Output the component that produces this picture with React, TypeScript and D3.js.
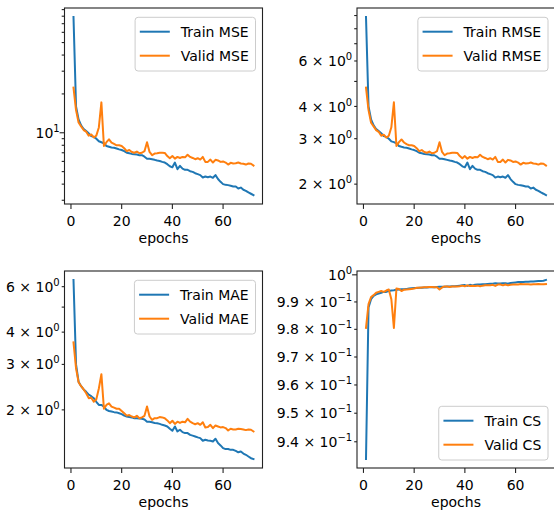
import React, { useEffect, useRef } from 'react';
import * as d3 from 'd3';

const epochs = d3.range(1, 73);

const trainMSE = [
  79, 16.0, 12.7, 11.4, 10.7, 10.3, 9.9, 9.43, 9.3, 9.0,
  8.6, 8.45, 8.3, 7.9, 7.8, 7.7, 7.65, 7.55, 7.44, 7.35,
  7.2, 7.0, 6.94, 6.86, 6.82, 6.78, 6.7, 6.7, 6.53, 6.3,
  6.3, 6.24, 6.17, 6.09, 6.05, 5.95, 5.88, 5.71, 5.5, 5.4,
  5.88, 5.22, 5.54, 5.28, 5.16, 5.16, 5.04, 4.98, 4.86, 4.78,
  4.7, 4.5, 4.58, 4.52, 4.58, 4.48, 4.7, 4.38, 4.17, 4.0,
  3.95, 3.93, 3.89, 3.84, 3.84, 3.7, 3.76, 3.62, 3.55, 3.45, 3.37, 3.29,
];
const validMSE = [
  22.4, 15.0, 12.0, 11.2, 10.5, 10.2, 9.5, 9.7, 9.2, 9.5,
  11.0, 17.2, 7.9, 8.45, 8.9, 8.4, 8.2, 8.0, 8.0, 7.9,
  7.6, 7.2, 7.35, 7.1, 7.0, 7.15, 6.94, 7.0, 7.2, 8.45,
  7.1, 6.7, 6.9, 6.94, 7.0, 7.0, 6.98, 6.6, 6.35, 6.6,
  6.3, 6.5, 6.38, 6.5, 6.45, 6.75, 6.5, 6.38, 6.24, 6.35,
  6.2, 6.5, 5.95, 5.95, 6.2, 5.88, 6.17, 6.1, 5.95, 6.0,
  5.88, 5.67, 5.85, 5.78, 5.8, 5.88, 5.78, 5.75, 5.67, 5.78, 5.75, 5.57,
];
const trainRMSE = [
  8.89, 4.0, 3.56, 3.38, 3.27, 3.21, 3.15, 3.07, 3.05, 3.0,
  2.93, 2.91, 2.88, 2.81, 2.79, 2.775, 2.766, 2.748, 2.728, 2.711,
  2.683, 2.646, 2.634, 2.619, 2.612, 2.604, 2.588, 2.588, 2.555, 2.51,
  2.51, 2.498, 2.484, 2.468, 2.46, 2.439, 2.425, 2.39, 2.345, 2.324,
  2.425, 2.285, 2.354, 2.298, 2.272, 2.272, 2.245, 2.232, 2.205, 2.186,
  2.168, 2.121, 2.14, 2.126, 2.14, 2.117, 2.168, 2.093, 2.042, 2.0,
  1.987, 1.982, 1.972, 1.96, 1.96, 1.924, 1.939, 1.903, 1.884, 1.857, 1.836, 1.814,
];
const validRMSE = [
  4.73, 3.87, 3.46, 3.35, 3.24, 3.19, 3.08, 3.11, 3.03, 3.08,
  3.32, 4.15, 2.81, 2.91, 2.98, 2.90, 2.86, 2.83, 2.83, 2.81,
  2.757, 2.683, 2.711, 2.665, 2.646, 2.674, 2.634, 2.646, 2.683, 2.907,
  2.665, 2.588, 2.627, 2.634, 2.646, 2.646, 2.642, 2.569, 2.52, 2.569,
  2.51, 2.55, 2.526, 2.55, 2.54, 2.598, 2.55, 2.526, 2.498, 2.52,
  2.49, 2.55, 2.439, 2.439, 2.49, 2.425, 2.484, 2.47, 2.439, 2.449,
  2.425, 2.381, 2.419, 2.404, 2.408, 2.425, 2.404, 2.398, 2.381, 2.404, 2.398, 2.36,
];
const trainMAE = [
  6.37, 3.0, 2.57, 2.47, 2.40, 2.35, 2.29, 2.26, 2.22, 2.15,
  2.09, 2.09, 2.06, 2.0, 1.98, 1.97, 1.96, 1.955, 1.94, 1.925,
  1.90, 1.885, 1.875, 1.87, 1.857, 1.857, 1.85, 1.847, 1.835, 1.80,
  1.80, 1.79, 1.78, 1.776, 1.765, 1.75, 1.74, 1.725, 1.69, 1.66,
  1.725, 1.65, 1.675, 1.64, 1.626, 1.626, 1.60, 1.59, 1.578, 1.565,
  1.555, 1.518, 1.532, 1.523, 1.518, 1.509, 1.545, 1.487, 1.457, 1.422,
  1.41, 1.41, 1.40, 1.40, 1.387, 1.37, 1.38, 1.355, 1.34, 1.32, 1.30, 1.29,
];
const validMAE = [
  3.65, 2.90, 2.56, 2.47, 2.40, 2.32, 2.22, 2.23, 2.15, 2.2,
  2.42, 2.75, 2.02, 2.09, 2.12, 2.06, 2.04, 2.02, 2.02, 1.98,
  1.94, 1.90, 1.91, 1.885, 1.87, 1.896, 1.857, 1.87, 1.896, 2.06,
  1.885, 1.83, 1.857, 1.857, 1.875, 1.87, 1.857, 1.82, 1.776, 1.815,
  1.765, 1.80, 1.78, 1.80, 1.79, 1.847, 1.80, 1.776, 1.76, 1.776,
  1.75, 1.79, 1.71, 1.715, 1.75, 1.70, 1.74, 1.725, 1.71, 1.715,
  1.70, 1.665, 1.69, 1.68, 1.68, 1.69, 1.685, 1.68, 1.67, 1.68, 1.675, 1.65,
];
const trainCS = [
  0.934, 0.988, 0.991, 0.9922, 0.9928, 0.9931, 0.9934, 0.9937, 0.9937, 0.994,
  0.9942, 0.9943, 0.9945, 0.9946, 0.9947, 0.9947, 0.9948, 0.9949, 0.995, 0.9951,
  0.9951, 0.9952, 0.9952, 0.9953, 0.9953, 0.9954, 0.9954, 0.9954, 0.9955, 0.9956,
  0.9956, 0.9956, 0.9957, 0.9957, 0.9958, 0.9958, 0.9959, 0.996, 0.9961, 0.9962,
  0.9959, 0.9963, 0.9961, 0.9963, 0.9964, 0.9964, 0.9965, 0.9965, 0.9966, 0.9967,
  0.9967, 0.9969, 0.9968, 0.9968, 0.9969, 0.9969, 0.9967, 0.997, 0.9971, 0.9972,
  0.9973, 0.9973, 0.9973, 0.9974, 0.9974, 0.9975, 0.9975, 0.9976, 0.9977, 0.9977, 0.9978, 0.9981,
];
const validCS = [
  0.9805, 0.9892, 0.9918, 0.9925, 0.9934, 0.9937, 0.994, 0.9937, 0.9942, 0.9946,
  0.991, 0.9805, 0.9949, 0.9948, 0.994, 0.9945, 0.9946, 0.9947, 0.9948, 0.9949,
  0.9952, 0.9952, 0.9953, 0.9954, 0.9954, 0.9955, 0.9955, 0.9954, 0.9954, 0.9946,
  0.9953, 0.9957, 0.9957, 0.9955, 0.9957, 0.9957, 0.9957, 0.9958, 0.996, 0.9958,
  0.9961, 0.9959, 0.996, 0.9959, 0.996, 0.9958, 0.996, 0.9961, 0.9961, 0.9961,
  0.9963, 0.9959, 0.9964, 0.9964, 0.9961, 0.9964, 0.9961, 0.9963, 0.9964, 0.9964,
  0.9964, 0.9966, 0.9965, 0.9965, 0.9965, 0.9964, 0.9965, 0.9965, 0.9966, 0.9965, 0.9965, 0.9966,
];

const xTicks = [0, 20, 40, 60];
const mseMajor = [10];
const mseMinor = [3, 4, 5, 6, 7, 8, 9, 20, 30, 40, 50, 60, 70, 80, 90];
const mseLabeled = [10];
const rmseMinor = [2, 3, 4, 5, 6, 7, 8, 9];
const rmseLabeled = [2, 3, 4, 6];
const maeMinor = [2, 3, 4, 5, 6];
const maeLabeled = [2, 3, 4, 6];
const csMajor = [1];
const csMinor = [0.94, 0.95, 0.96, 0.97, 0.98, 0.99];
const csLabeled = [1, 0.94, 0.95, 0.96, 0.97, 0.98, 0.99];

const C_TRAIN = '#1f77b4';
const C_VALID = '#ff7f0e';
const FONT = 'DejaVu Sans';

const panels = [
  { left: 64.5, top: 8, w: 198, h: 196, train: trainMSE, valid: validMSE, names: ['Train MSE', 'Valid MSE'], legend: 'upper', major: mseMajor, minor: mseMinor, labeled: mseLabeled },
  { left: 357, top: 8, w: 198, h: 196, train: trainRMSE, valid: validRMSE, names: ['Train RMSE', 'Valid RMSE'], legend: 'upper', major: [], minor: rmseMinor, labeled: rmseLabeled },
  { left: 64.5, top: 271, w: 198, h: 197, train: trainMAE, valid: validMAE, names: ['Train MAE', 'Valid MAE'], legend: 'upper', major: [], minor: maeMinor, labeled: maeLabeled },
  { left: 357, top: 271, w: 198, h: 197, train: trainCS, valid: validCS, names: ['Train CS', 'Valid CS'], legend: 'lower', major: csMajor, minor: csMinor, labeled: csLabeled },
];

function tickParts(v: number) {
  const e = Math.floor(Math.log10(v) + 1e-9);
  const m = +(v / Math.pow(10, e)).toFixed(3);
  const mant = Math.abs(m - 1) < 1e-6 ? null : String(+m.toFixed(1));
  const exp = e < 0 ? '\u2212' + -e : String(e);
  return { mant, exp };
}

export default function App() {
  const ref = useRef<SVGSVGElement>(null);

  useEffect(() => {
    const svg = d3.select(ref.current);
    svg.selectAll('*').remove();

    panels.forEach((p) => {
      const g = svg.append('g');
      const n = epochs.length;
      const xPad = 0.05 * (epochs[n - 1] - epochs[0]);
      const x = d3.scaleLinear().domain([epochs[0] - xPad, epochs[n - 1] + xPad]).range([p.left, p.left + p.w]);
      const all = p.train.concat(p.valid);
      const lmin = Math.log10(d3.min(all) as number);
      const lmax = Math.log10(d3.max(all) as number);
      const lp = 0.05 * (lmax - lmin);
      const y = d3.scaleLog().domain([Math.pow(10, lmin - lp), Math.pow(10, lmax + lp)]).range([p.top + p.h, p.top]);

      const line = d3.line<number>().x((_, i) => x(epochs[i])).y((d) => y(d));
      g.append('path').attr('d', line(p.train)).attr('fill', 'none').attr('stroke', C_TRAIN).attr('stroke-width', 2).attr('stroke-linejoin', 'round').attr('stroke-linecap', 'square');
      g.append('path').attr('d', line(p.valid)).attr('fill', 'none').attr('stroke', C_VALID).attr('stroke-width', 2).attr('stroke-linejoin', 'round').attr('stroke-linecap', 'square');

      // spines
      g.append('rect').attr('x', p.left).attr('y', p.top).attr('width', p.w).attr('height', p.h)
        .attr('fill', 'none').attr('stroke', '#222').attr('stroke-width', 1.1);

      const bottom = p.top + p.h;
      // x ticks
      xTicks.forEach((t) => {
        const xx = x(t);
        g.append('line').attr('x1', xx).attr('x2', xx).attr('y1', bottom).attr('y2', bottom + 4.9).attr('stroke', '#222').attr('stroke-width', 1.1);
        g.append('text').attr('x', xx).attr('y', bottom + 21.8).attr('text-anchor', 'middle')
          .attr('font-family', FONT).attr('font-size', 14).attr('fill', '#000').text(String(t));
      });
      g.append('text').attr('x', p.left + p.w / 2).attr('y', bottom + 39.3).attr('text-anchor', 'middle')
        .attr('font-family', FONT).attr('font-size', 14).attr('fill', '#000').text('epochs');

      // y ticks
      const drawTick = (v: number, len: number) => {
        const yy = y(v);
        g.append('line').attr('x1', p.left - len).attr('x2', p.left).attr('y1', yy).attr('y2', yy).attr('stroke', '#222').attr('stroke-width', 1.1);
      };
      p.major.forEach((v) => drawTick(v, 4.9));
      p.minor.forEach((v) => drawTick(v, 2.8));
      p.labeled.forEach((v) => {
        const yy = y(v);
        const { mant, exp } = tickParts(v);
        const t = g.append('text').attr('x', p.left - 4.8).attr('y', yy + 5.1).attr('text-anchor', 'end')
          .attr('font-family', FONT).attr('font-size', 14).attr('fill', '#000');
        t.append('tspan').text((mant ? mant + ' \u00d7 ' : '') + '10');
        t.append('tspan').attr('dy', -6).attr('font-size', 10).text(exp);
      });

      // legend
      const lg = g.append('g');
      const texts = p.names.map((nm, i) => lg.append('text').attr('font-family', FONT).attr('font-size', 14).attr('fill', '#000').text(nm));
      const tw = d3.max(texts.map((t) => (t.node() as SVGTextElement).getComputedTextLength())) as number;
      const bw = tw + 52.4;
      const bh = 53.7;
      const bx = p.left + p.w - 7 - bw;
      const by = p.legend === 'upper' ? p.top + 9.3 : bottom - 8 - bh;
      lg.insert('rect', ':first-child').attr('x', bx).attr('y', by).attr('width', bw).attr('height', bh).attr('rx', 3)
        .attr('fill', '#fff').attr('fill-opacity', 0.8).attr('stroke', '#cccccc').attr('stroke-width', 1);
      [C_TRAIN, C_VALID].forEach((c, i) => {
        const cy = by + 14.4 + i * 24;
        lg.append('line').attr('x1', bx + 4.7).attr('x2', bx + 34.7).attr('y1', cy).attr('y2', cy).attr('stroke', c).attr('stroke-width', 2);
        texts[i].attr('x', bx + 45.7).attr('y', cy + 5.1);
      });
    });
  }, []);

  return (
    <svg ref={ref} width={554} height={510} style={{ position: 'absolute', left: 0, top: 0, background: '#fff' }} />
  );
}
